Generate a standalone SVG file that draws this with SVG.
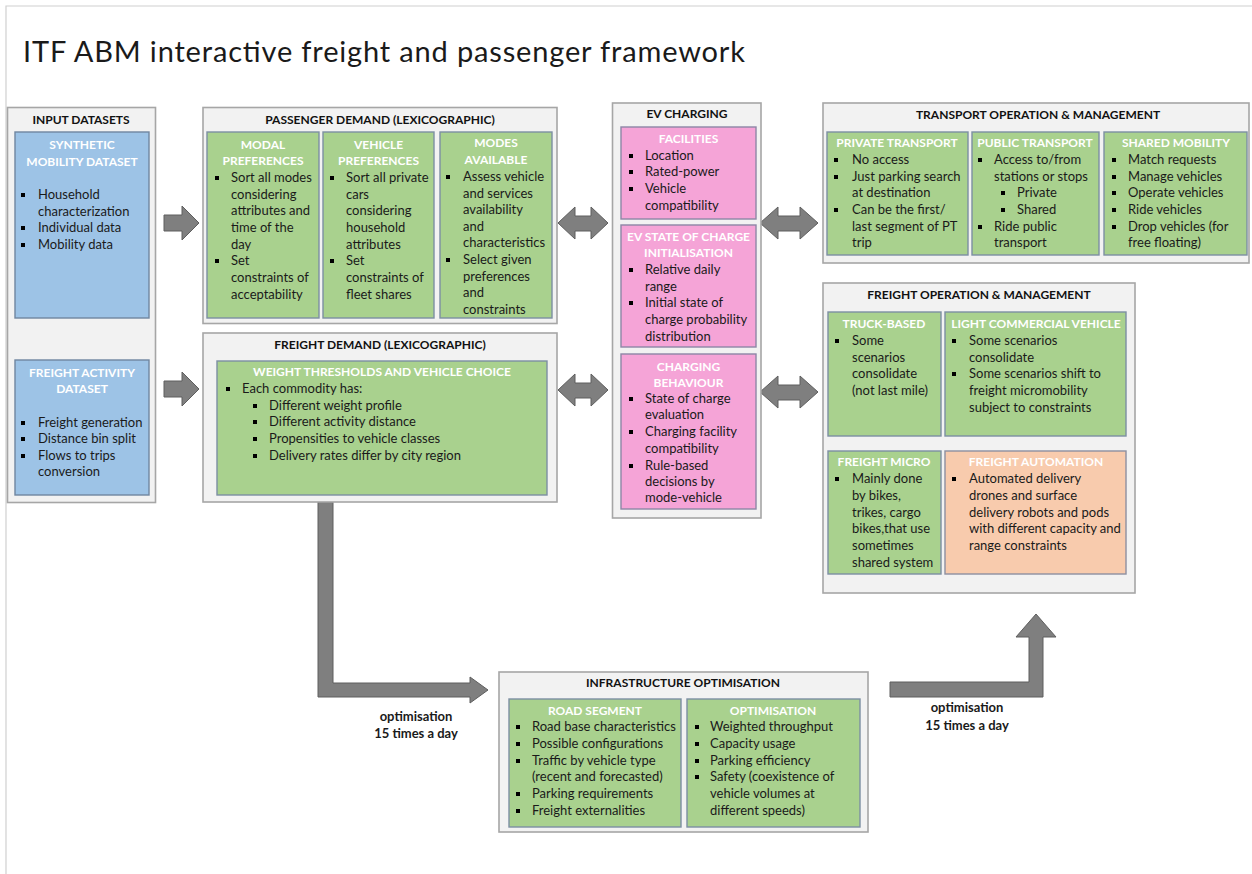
<svg xmlns="http://www.w3.org/2000/svg" width="1252" height="874" viewBox="0 0 1252 874">
  <style>
    .page { fill: #ffffff; }
    .frame { fill: none; stroke: #d0d0d0; stroke-width: 1.2; }
    .outer { fill: #f2f2f2; stroke: #a6a6a6; stroke-width: 1.6; }
    .green { fill: #a9d18e; stroke: #7d8fa3; stroke-width: 1.4; }
    .blue { fill: #9dc3e6; stroke: #6f86a0; stroke-width: 1.4; }
    .pink { fill: #f5a4d7; stroke: #8d86a6; stroke-width: 1.4; }
    .peach { fill: #f8cbad; stroke: #8d8fa0; stroke-width: 1.4; }
    .arrow { fill: #7f7f7f; stroke: #5e5e5e; stroke-width: 1; stroke-linejoin: miter; }
    .title { font-family: Lato, "Liberation Sans", sans-serif; font-size: 29px; fill: #1a1a1a; }
    .ttl { font-family: Lato, "Liberation Sans", sans-serif; font-size: 12px; font-weight: bold; fill: #111111; text-anchor: middle; }
    .hd { font-family: Lato, "Liberation Sans", sans-serif; font-size: 12px; font-weight: bold; fill: #ffffff; text-anchor: middle; }
    .t { font-family: Lato, "Liberation Sans", sans-serif; font-size: 13px; fill: #1a1a1a; }
    .lbl { font-family: Lato, "Liberation Sans", sans-serif; font-size: 13px; font-weight: bold; fill: #1a1a1a; text-anchor: middle; }
    .sq { fill: #000000; }
  </style>
  <defs>
    <!-- square bullet, placed centred on the line -->
    <rect id="bul" class="sq" x="-2" y="-2" width="4" height="4"/>
  </defs>

  <rect class="page" x="0" y="0" width="1252" height="874"/>
  <path class="frame" d="M6,874 V6 H1252"/>

  <text class="title" x="23" y="62" textLength="722" lengthAdjust="spacing">ITF ABM interactive freight and passenger framework</text>

  <!-- connectors -->
  <g id="connectors">
    <polygon class="arrow" points="164,215 182,215 182,206 199,223 182,240 182,231 164,231"/>
    <polygon class="arrow" points="164,381 182,381 182,372 199,389 182,406 182,397 164,397"/>
    <polygon class="arrow" points="558,223 575,207 575,216 591,216 591,207 608,223 591,239 591,231 575,231 575,239"/>
    <polygon class="arrow" points="558,390 575,374 575,383 591,383 591,374 608,390 591,406 591,398 575,398 575,406"/>
    <polygon class="arrow" points="760,223 778,207 778,216 800,216 800,207 818,223 800,239 800,231 778,231 778,239"/>
    <polygon class="arrow" points="760,392 778,376 778,385 800,385 800,376 818,392 800,408 800,400 778,400 778,408"/>
    <polygon class="arrow" points="318,502 333,502 333,683 470,683 470,677 488,690 470,703 470,697 318,697"/>
    <polygon class="arrow" points="890,682 1029,682 1029,637 1016,637 1036,614 1056,637 1043,637 1043,697 890,697"/>
    <text class="lbl"><tspan x="416" y="721">optimisation</tspan><tspan x="416" y="738">15 times a day</tspan></text>
    <text class="lbl"><tspan x="967" y="712">optimisation</tspan><tspan x="967" y="730">15 times a day</tspan></text>
  </g>

  <!-- input datasets -->
  <g id="input-datasets">
    <rect class="outer" x="7.5" y="107.5" width="148" height="395"/>
    <text class="ttl" x="81" y="124">INPUT DATASETS</text>
    <g id="synthetic-mobility">
      <rect class="blue" x="15" y="132" width="134" height="186"/>
      <text class="hd"><tspan x="82" y="149">SYNTHETIC</tspan><tspan x="82" y="166">MOBILITY DATASET</tspan></text>
      <use href="#bul" x="23" y="195"/><use href="#bul" x="23" y="228"/><use href="#bul" x="23" y="245"/>
      <text class="t"><tspan x="38" y="199">Household</tspan><tspan x="38" y="216">characterization</tspan><tspan x="38" y="232">Individual data</tspan><tspan x="38" y="249">Mobility data</tspan></text>
    </g>
    <g id="freight-activity">
      <rect class="blue" x="15" y="360" width="134" height="135"/>
      <text class="hd"><tspan x="82" y="377">FREIGHT ACTIVITY</tspan><tspan x="82" y="393">DATASET</tspan></text>
      <use href="#bul" x="23" y="423"/><use href="#bul" x="23" y="439"/><use href="#bul" x="23" y="456"/>
      <text class="t"><tspan x="38" y="427">Freight generation</tspan><tspan x="38" y="443">Distance bin split</tspan><tspan x="38" y="460">Flows to trips</tspan><tspan x="38" y="476">conversion</tspan></text>
    </g>
  </g>

  <!-- passenger demand -->
  <g id="passenger-demand">
    <rect class="outer" x="203" y="107.5" width="354" height="216"/>
    <text class="ttl" x="380" y="124">PASSENGER DEMAND (LEXICOGRAPHIC)</text>
    <g id="modal-preferences">
      <rect class="green" x="207" y="132" width="112" height="186"/>
      <text class="hd"><tspan x="263" y="149">MODAL</tspan><tspan x="263" y="165">PREFERENCES</tspan></text>
      <use href="#bul" x="217" y="178"/><use href="#bul" x="217" y="261"/>
      <text class="t"><tspan x="231" y="182">Sort all modes</tspan><tspan x="231" y="199">considering</tspan><tspan x="231" y="215">attributes and</tspan><tspan x="231" y="232">time of the</tspan><tspan x="231" y="249">day</tspan><tspan x="231" y="265">Set</tspan><tspan x="231" y="282">constraints of</tspan><tspan x="231" y="299">acceptability</tspan></text>
    </g>
    <g id="vehicle-preferences">
      <rect class="green" x="323" y="132" width="111" height="186"/>
      <text class="hd"><tspan x="378.5" y="149">VEHICLE</tspan><tspan x="378.5" y="165">PREFERENCES</tspan></text>
      <use href="#bul" x="332" y="178"/><use href="#bul" x="332" y="261"/>
      <text class="t"><tspan x="346" y="182">Sort all private</tspan><tspan x="346" y="199">cars</tspan><tspan x="346" y="215">considering</tspan><tspan x="346" y="232">household</tspan><tspan x="346" y="249">attributes</tspan><tspan x="346" y="265">Set</tspan><tspan x="346" y="282">constraints of</tspan><tspan x="346" y="299">fleet shares</tspan></text>
    </g>
    <g id="modes-available">
      <rect class="green" x="440" y="132" width="112" height="186"/>
      <text class="hd"><tspan x="496" y="147">MODES</tspan><tspan x="496" y="164">AVAILABLE</tspan></text>
      <use href="#bul" x="448" y="177"/><use href="#bul" x="448" y="260"/>
      <text class="t"><tspan x="463" y="181">Assess vehicle</tspan><tspan x="463" y="198">and services</tspan><tspan x="463" y="214">availability</tspan><tspan x="463" y="231">and</tspan><tspan x="463" y="247">characteristics</tspan><tspan x="463" y="264">Select given</tspan><tspan x="463" y="281">preferences</tspan><tspan x="463" y="297">and</tspan><tspan x="463" y="314">constraints</tspan></text>
    </g>
  </g>

  <!-- freight demand -->
  <g id="freight-demand">
    <rect class="outer" x="203" y="333" width="354" height="169"/>
    <text class="ttl" x="380" y="349">FREIGHT DEMAND (LEXICOGRAPHIC)</text>
    <g id="weight-thresholds">
      <rect class="green" x="217" y="361" width="330" height="134"/>
      <text class="hd" x="382" y="376">WEIGHT THRESHOLDS AND VEHICLE CHOICE</text>
      <use href="#bul" x="228" y="389"/>
      <use href="#bul" x="255" y="406"/><use href="#bul" x="255" y="422"/><use href="#bul" x="255" y="439"/><use href="#bul" x="255" y="456"/>
      <text class="t"><tspan x="242" y="393">Each commodity has:</tspan><tspan x="269" y="410">Different weight profile</tspan><tspan x="269" y="426">Different activity distance</tspan><tspan x="269" y="443">Propensities to vehicle classes</tspan><tspan x="269" y="460">Delivery rates differ by city region</tspan></text>
    </g>
  </g>

  <!-- EV charging -->
  <g id="ev-charging">
    <rect class="outer" x="612.5" y="103" width="148.5" height="415"/>
    <text class="ttl" x="687" y="118">EV CHARGING</text>
    <g id="facilities">
      <rect class="pink" x="621" y="127" width="135" height="92"/>
      <text class="hd" x="688.5" y="143">FACILITIES</text>
      <use href="#bul" x="631" y="156"/><use href="#bul" x="631" y="172"/><use href="#bul" x="631" y="189"/>
      <text class="t"><tspan x="645" y="160">Location</tspan><tspan x="645" y="176">Rated-power</tspan><tspan x="645" y="193">Vehicle</tspan><tspan x="645" y="210">compatibility</tspan></text>
    </g>
    <g id="state-of-charge">
      <rect class="pink" x="621" y="225" width="135" height="122"/>
      <text class="hd"><tspan x="688.5" y="241">EV STATE OF CHARGE</tspan><tspan x="688.5" y="257">INITIALISATION</tspan></text>
      <use href="#bul" x="631" y="270"/><use href="#bul" x="631" y="303"/>
      <text class="t"><tspan x="645" y="274">Relative daily</tspan><tspan x="645" y="291">range</tspan><tspan x="645" y="307">Initial state of</tspan><tspan x="645" y="324">charge probability</tspan><tspan x="645" y="341">distribution</tspan></text>
    </g>
    <g id="charging-behaviour">
      <rect class="pink" x="621" y="354" width="135" height="155"/>
      <text class="hd"><tspan x="688.5" y="371">CHARGING</tspan><tspan x="688.5" y="387">BEHAVIOUR</tspan></text>
      <use href="#bul" x="631" y="399"/><use href="#bul" x="631" y="432"/><use href="#bul" x="631" y="466"/>
      <text class="t"><tspan x="645" y="403">State of charge</tspan><tspan x="645" y="419">evaluation</tspan><tspan x="645" y="436">Charging facility</tspan><tspan x="645" y="453">compatibility</tspan><tspan x="645" y="470">Rule-based</tspan><tspan x="645" y="486">decisions by</tspan><tspan x="645" y="502">mode-vehicle</tspan></text>
    </g>
  </g>

  <!-- transport operation & management -->
  <g id="transport-operation">
    <rect class="outer" x="823" y="103" width="426" height="160"/>
    <text class="ttl" x="1038" y="119">TRANSPORT OPERATION &amp; MANAGEMENT</text>
    <g id="private-transport">
      <rect class="green" x="827" y="132" width="141" height="123"/>
      <text class="hd" x="897" y="147">PRIVATE TRANSPORT</text>
      <use href="#bul" x="836" y="160"/><use href="#bul" x="836" y="177"/><use href="#bul" x="836" y="210"/>
      <text class="t"><tspan x="852" y="164">No access</tspan><tspan x="852" y="181">Just parking search</tspan><tspan x="852" y="197">at destination</tspan><tspan x="852" y="214">Can be the first/</tspan><tspan x="852" y="231">last segment of PT</tspan><tspan x="852" y="247">trip</tspan></text>
    </g>
    <g id="public-transport">
      <rect class="green" x="972" y="132" width="127" height="123"/>
      <text class="hd" x="1035" y="147">PUBLIC TRANSPORT</text>
      <use href="#bul" x="980" y="160"/><use href="#bul" x="1003" y="193"/><use href="#bul" x="1003" y="210"/><use href="#bul" x="980" y="227"/>
      <text class="t"><tspan x="994" y="164">Access to/from</tspan><tspan x="994" y="181">stations or stops</tspan><tspan x="1017" y="197">Private</tspan><tspan x="1017" y="214">Shared</tspan><tspan x="994" y="231">Ride public</tspan><tspan x="994" y="247">transport</tspan></text>
    </g>
    <g id="shared-mobility">
      <rect class="green" x="1104" y="132" width="143" height="123"/>
      <text class="hd" x="1176" y="147">SHARED MOBILITY</text>
      <use href="#bul" x="1114" y="160"/><use href="#bul" x="1114" y="177"/><use href="#bul" x="1114" y="193"/><use href="#bul" x="1114" y="210"/><use href="#bul" x="1114" y="227"/>
      <text class="t"><tspan x="1128" y="164">Match requests</tspan><tspan x="1128" y="181">Manage vehicles</tspan><tspan x="1128" y="197">Operate vehicles</tspan><tspan x="1128" y="214">Ride vehicles</tspan><tspan x="1128" y="231">Drop vehicles (for</tspan><tspan x="1128" y="247">free floating)</tspan></text>
    </g>
  </g>

  <!-- freight operation & management -->
  <g id="freight-operation">
    <rect class="outer" x="823" y="283" width="312" height="310"/>
    <text class="ttl" x="979" y="299">FREIGHT OPERATION &amp; MANAGEMENT</text>
    <g id="truck-based">
      <rect class="green" x="828" y="312" width="113" height="124"/>
      <text class="hd" x="884" y="328">TRUCK-BASED</text>
      <use href="#bul" x="837" y="341"/>
      <text class="t"><tspan x="852" y="345">Some</tspan><tspan x="852" y="362">scenarios</tspan><tspan x="852" y="378">consolidate</tspan><tspan x="852" y="395">(not last mile)</tspan></text>
    </g>
    <g id="light-commercial">
      <rect class="green" x="945" y="312" width="181" height="124"/>
      <text class="hd" x="1036" y="328">LIGHT COMMERCIAL VEHICLE</text>
      <use href="#bul" x="954" y="341"/><use href="#bul" x="954" y="374"/>
      <text class="t"><tspan x="969" y="345">Some scenarios</tspan><tspan x="969" y="362">consolidate</tspan><tspan x="969" y="378">Some scenarios shift to</tspan><tspan x="969" y="395">freight micromobility</tspan><tspan x="969" y="412">subject to constraints</tspan></text>
    </g>
    <g id="freight-micro">
      <rect class="green" x="828" y="451" width="113" height="123"/>
      <text class="hd" x="884" y="466">FREIGHT MICRO</text>
      <use href="#bul" x="837" y="479"/>
      <text class="t"><tspan x="852" y="483">Mainly done</tspan><tspan x="852" y="500">by bikes,</tspan><tspan x="852" y="517">trikes, cargo</tspan><tspan x="852" y="533">bikes,that use</tspan><tspan x="852" y="550">sometimes</tspan><tspan x="852" y="567">shared system</tspan></text>
    </g>
    <g id="freight-automation">
      <rect class="peach" x="945" y="451" width="181" height="123"/>
      <text class="hd" x="1036" y="466">FREIGHT AUTOMATION</text>
      <use href="#bul" x="954" y="479"/>
      <text class="t"><tspan x="969" y="483">Automated delivery</tspan><tspan x="969" y="500">drones and surface</tspan><tspan x="969" y="517">delivery robots and pods</tspan><tspan x="969" y="533">with different capacity and</tspan><tspan x="969" y="550">range constraints</tspan></text>
    </g>
  </g>

  <!-- infrastructure optimisation -->
  <g id="infrastructure-optimisation">
    <rect class="outer" x="499" y="672" width="369" height="160"/>
    <text class="ttl" x="683" y="687">INFRASTRUCTURE OPTIMISATION</text>
    <g id="road-segment">
      <rect class="green" x="509" y="699" width="172" height="128"/>
      <text class="hd" x="595" y="715">ROAD SEGMENT</text>
      <use href="#bul" x="518" y="727"/><use href="#bul" x="518" y="744"/><use href="#bul" x="518" y="761"/><use href="#bul" x="518" y="794"/><use href="#bul" x="518" y="811"/>
      <text class="t"><tspan x="532" y="731">Road base characteristics</tspan><tspan x="532" y="748">Possible configurations</tspan><tspan x="532" y="765">Traffic by vehicle type</tspan><tspan x="532" y="781">(recent and forecasted)</tspan><tspan x="532" y="798">Parking requirements</tspan><tspan x="532" y="815">Freight externalities</tspan></text>
    </g>
    <g id="optimisation">
      <rect class="green" x="687" y="699" width="173" height="128"/>
      <text class="hd" x="773" y="715">OPTIMISATION</text>
      <use href="#bul" x="697" y="727"/><use href="#bul" x="697" y="744"/><use href="#bul" x="697" y="761"/><use href="#bul" x="697" y="777"/>
      <text class="t"><tspan x="710" y="731">Weighted throughput</tspan><tspan x="710" y="748">Capacity usage</tspan><tspan x="710" y="765">Parking efficiency</tspan><tspan x="710" y="781">Safety (coexistence of</tspan><tspan x="710" y="798">vehicle volumes at</tspan><tspan x="710" y="815">different speeds)</tspan></text>
    </g>
  </g>
</svg>
